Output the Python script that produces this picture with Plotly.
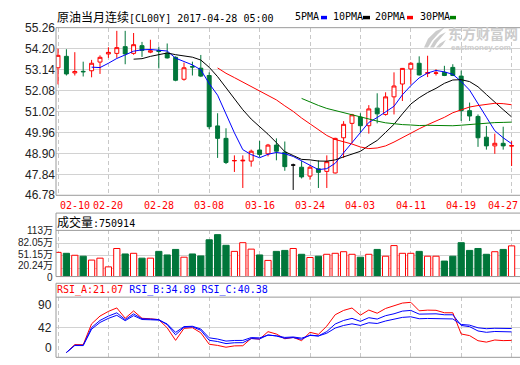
import plotly.graph_objects as go
import pandas as pd

W, H = 520, 365

# ---------------- data ----------------
dates = ["02-10", "02-13", "02-14", "02-15", "02-16", "02-17", "02-20", "02-21", "02-22", "02-23",
         "02-24", "02-27", "02-28", "03-01", "03-02", "03-03", "03-06", "03-07", "03-08", "03-09",
         "03-10", "03-13", "03-14", "03-15", "03-16", "03-17", "03-20", "03-21", "03-22", "03-23",
         "03-24", "03-27", "03-28", "03-29", "03-30", "03-31", "04-03", "04-04", "04-05", "04-06",
         "04-07", "04-10", "04-11", "04-12", "04-13", "04-14", "04-17", "04-18", "04-19", "04-20",
         "04-21", "04-24", "04-25", "04-26", "04-27"]
tick_labels = ["02-10", "02-20", "02-28", "03-08", "03-16", "03-24", "04-03", "04-11", "04-19", "04-27"]

opens = [53.23, 53.81, 52.97, 53.05, 53.08, 53.52, 53.93, 53.96, 54.30, 53.96,
         54.35, 54.02, 54.11, 53.97, 53.76, 52.65, 53.29, 53.21, 52.84, 50.29,
         49.66, 48.52, 48.52, 48.51, 49.07, 48.88, 49.32, 48.96, 48.31, 48.20,
         47.75, 48.12, 47.99, 47.91, 49.69, 50.42, 50.74, 50.30, 51.19, 50.87,
         51.76, 52.41, 53.17, 53.46, 52.95, 52.95, 53.00, 53.25, 52.81, 51.06,
         50.77, 49.72, 49.28, 49.41, 49.27]
highs = [54.20, 54.17, 54.02, 53.54, 53.63, 53.86, 54.27, 55.10, 55.10, 54.99,
         54.54, 54.65, 54.30, 54.46, 53.81, 53.49, 53.54, 53.88, 53.00, 50.93,
         50.17, 48.80, 48.80, 49.09, 49.53, 49.38, 49.66, 49.50, 48.38, 48.51,
         48.31, 48.55, 48.80, 49.69, 50.53, 50.90, 50.93, 51.34, 51.94, 51.99,
         53.00, 53.22, 53.52, 53.81, 53.84, 53.16, 53.33, 53.41, 53.09, 51.47,
         50.87, 50.29, 49.90, 50.25, 49.52]
lows = [52.39, 52.84, 52.84, 52.79, 52.75, 52.92, 53.73, 53.73, 53.41, 53.89,
        53.78, 53.97, 53.20, 53.70, 52.55, 52.58, 52.84, 52.76, 50.13, 48.67,
        48.36, 47.96, 47.15, 48.23, 48.72, 48.75, 48.55, 48.02, 47.05, 47.63,
        47.57, 47.15, 47.15, 47.88, 48.67, 49.41, 49.98, 49.90, 50.42, 50.81,
        50.87, 51.55, 52.39, 52.84, 52.76, 52.84, 52.81, 52.81, 50.54, 50.54,
        49.23, 49.09, 48.88, 49.09, 48.26]
closes = [53.86, 52.92, 53.04, 53.03, 53.46, 53.76, 54.01, 54.25, 53.93, 54.40,
          54.11, 54.09, 54.06, 53.73, 52.60, 53.23, 53.27, 52.81, 50.25, 49.66,
          48.44, 48.54, 48.55, 49.01, 48.85, 49.32, 49.01, 48.23, 48.31, 47.71,
          48.20, 47.94, 48.48, 49.66, 50.37, 50.85, 50.30, 51.15, 50.90, 51.76,
          52.31, 53.20, 53.46, 52.87, 52.98, 52.97, 52.84, 52.84, 51.06, 50.79,
          49.69, 49.28, 49.41, 49.28, 49.29]
volumes_wan = [59.2, 56.9, 52.1, 49.8, 40.3, 45.0, 23.7, 68.7, 55.3, 56.9,
               45.0, 45.0, 61.6, 52.9, 66.4, 47.4, 55.3, 50.5, 90.0, 102.6,
               76.5, 61.6, 82.9, 67.1, 52.9, 39.5, 61.6, 64.0, 68.7, 54.5,
               46.6, 49.8, 54.5, 56.9, 60.8, 54.5, 47.4, 54.5, 66.4, 49.8,
               75.8, 56.9, 56.9, 61.6, 49.8, 49.8, 37.9, 49.8, 82.9, 64.0,
               68.7, 54.5, 60.8, 66.4, 75.09]

price_ticks = [46.78, 47.84, 48.90, 49.96, 51.02, 52.08, 53.14, 54.20, 55.26]
vol_ticks = [0, 20.24, 51.15, 82.05, 113]
rsi_ticks = [0, 42, 90]
ma_periods = [5, 10, 20, 30]
rsi_periods = [6, 12, 24]
rsi_header_values = [21.07, 34.89, 40.38]
last_volume = 750914

# ---------------- styles ----------------
RED = "#ff0000"
GREEN = "#00763a"
BLUE = "#0000ff"
BLACK = "#000000"
MA_GREEN = "#008000"
BORDER = "#9a9a9a"
HGRID = "#d2d2d2"
VGRID = "#c8c8c8"
WMARK = "#cccccc"
MONO = "DejaVu Sans Mono"
CJK = "Noto Sans CJK SC"
NUM = "Liberation Sans"
LABEL = "#222222"


def fx(px):
    return px / W


def fy(py):
    return 1 - py / H


idx = list(range(len(dates)))
tick_idx = [dates.index(t) for t in tick_labels]

# the chart's indicators, from the read closes
close_s = pd.Series(closes, dtype=float)
mas = {n: close_s.rolling(n).mean() for n in ma_periods}


def tdx_sma(values, n, m=1):
    out, y = [], None
    for v in values:
        y = v if y is None else (m * v + (n - m) * y) / n
        out.append(y)
    return pd.Series(out, dtype=float)


diff = close_s.diff().fillna(0.0)
rsis = {}
for n in rsi_periods:
    num, den = tdx_sma(diff.clip(lower=0), n), tdx_sma(diff.abs(), n)
    rsis[n] = (num / den.where(den > 0)) * 100

flat = [o == c for o, c in zip(opens, closes)]
notflat = [not f for f in flat]


def pick(arr, mask):
    return [a if m else None for a, m in zip(arr, mask)]


fig = go.Figure()

# candles
fig.add_trace(go.Candlestick(
    x=idx, open=pick(opens, notflat), high=pick(highs, notflat), low=pick(lows, notflat),
    close=pick(closes, notflat), xaxis="x", yaxis="y", whiskerwidth=0,
    increasing=dict(line=dict(color=RED, width=1), fillcolor="white"),
    decreasing=dict(line=dict(color=GREEN, width=1), fillcolor=GREEN),
    hoverinfo="skip", showlegend=False))
fig.add_trace(go.Candlestick(
    x=idx, open=pick(opens, flat), high=pick(highs, flat), low=pick(lows, flat),
    close=pick(closes, flat), xaxis="x", yaxis="y", whiskerwidth=0,
    increasing=dict(line=dict(color=BLACK, width=1), fillcolor=BLACK),
    decreasing=dict(line=dict(color=BLACK, width=1), fillcolor=BLACK),
    hoverinfo="skip", showlegend=False))

# moving averages
for n, col in zip(ma_periods, [BLUE, BLACK, RED, MA_GREEN]):
    fig.add_trace(go.Scatter(x=idx, y=mas[n], mode="lines", line=dict(color=col, width=1),
                             xaxis="x", yaxis="y", hoverinfo="skip", showlegend=False))

# volume
up = [c >= o for o, c in zip(opens, closes)]
down = [not u for u in up]
fig.add_trace(go.Bar(x=idx, y=pick(volumes_wan, up), width=0.74, xaxis="x2", yaxis="y2",
                     marker=dict(color="white", line=dict(color=RED, width=1)),
                     hoverinfo="skip", showlegend=False))
fig.add_trace(go.Bar(x=idx, y=pick(volumes_wan, down), width=0.74, xaxis="x2", yaxis="y2",
                     marker=dict(color=GREEN, line=dict(color=GREEN, width=1)),
                     hoverinfo="skip", showlegend=False))

# RSI
for n, col in zip(rsi_periods, [RED, BLUE, BLUE]):
    fig.add_trace(go.Scatter(x=idx, y=rsis[n], mode="lines", line=dict(color=col, width=1),
                             xaxis="x3", yaxis="y3", hoverinfo="skip", showlegend=False))

# ---------------- layout ----------------
L = 56
main_top, main_bot = 21.5, 195.8
vol_hdr, vol_top, vol_bot = 214.3, 232.3, 280.3
rsi_hdr, rsi_top, rsi_bot = 287.3, 301.7, 364.3
xdom = [fx(L), 1.0]
xr = [-0.238, 55.0]
rsi_zero_px, rsi_42_px = 359.3, 333.3
rsi_scale = (rsi_zero_px - rsi_42_px) / 42
rsi_range = [-(rsi_bot - rsi_zero_px) / rsi_scale, (rsi_zero_px - rsi_top) / rsi_scale]

xcommon = dict(domain=xdom, range=xr, tickmode="array", tickvals=tick_idx, showgrid=True,
               gridcolor=VGRID, griddash="4px,3px", gridwidth=1, zeroline=False, showline=False,
               ticks="", showticklabels=False, fixedrange=True)

fig.update_layout(
    width=W, height=H, margin=dict(l=0, r=0, t=0, b=0),
    paper_bgcolor="white", plot_bgcolor="white", showlegend=False,
    barmode="overlay", boxgap=0.33,
    xaxis=dict(**xcommon, anchor="y", rangeslider=dict(visible=False)),
    yaxis=dict(domain=[fy(main_bot), fy(main_top)], range=[price_ticks[0], price_ticks[-1]],
               anchor="x", tickmode="array", tickvals=price_ticks,
               ticktext=[f"{v:.2f}" for v in price_ticks], showgrid=True, gridcolor=HGRID,
               zeroline=False, showline=False, ticks="",
               tickfont=dict(family=NUM, size=12, color=LABEL)),
    xaxis2=dict(**xcommon, anchor="y2"),
    yaxis2=dict(domain=[fy(vol_bot), fy(vol_top)], range=[0, vol_ticks[-1]], anchor="x2",
                tickmode="array", tickvals=vol_ticks, showgrid=True, gridcolor=HGRID,
                zeroline=False, showline=False, ticks="", showticklabels=False),
    xaxis3=dict(**xcommon, anchor="y3"),
    yaxis3=dict(domain=[fy(rsi_bot), fy(rsi_top)], range=rsi_range, anchor="x3",
                showgrid=False, zeroline=False, showline=False, showticklabels=False, ticks=""),
)

shapes = []


def hline(y, x0=L, x1=W + 2, color=BORDER, width=1):
    shapes.append(dict(type="line", xref="paper", yref="paper", x0=fx(x0), x1=fx(x1),
                       y0=fy(y), y1=fy(y), line=dict(color=color, width=width)))


def vline(x, y0, y1, color=BORDER, width=1):
    shapes.append(dict(type="line", xref="paper", yref="paper", x0=fx(x), x1=fx(x),
                       y0=fy(y0), y1=fy(y1), line=dict(color=color, width=width)))


def pix_path(points):
    d = "M " + " L ".join(f"{fx(x):.5f},{fy(y):.5f}" for x, y in points) + " Z"
    return d


# RSI 42 gridline
shapes.append(dict(type="line", xref="paper", yref="y3", x0=fx(L), x1=1.0, y0=42, y1=42,
                   line=dict(color=HGRID, width=1), layer="below"))

for y in (main_top, main_bot, vol_hdr, vol_top, vol_bot, rsi_hdr, rsi_top, rsi_bot):
    hline(y)
vline(L, main_top, main_bot)
vline(L, vol_hdr, vol_bot)
vline(L, rsi_hdr, rsi_bot)

# legend colour keys in the title row
for (x0, x1), col in zip([(321, 327), (363, 370), (407, 413), (450, 456)],
                         [BLUE, BLACK, RED, MA_GREEN]):
    shapes.append(dict(type="rect", xref="paper", yref="paper", x0=fx(x0), x1=fx(x1),
                       y0=fy(12.8), y1=fy(9.2), fillcolor=col, line=dict(width=0)))

# watermark logo (rough feather strokes)
for pts in ([(424, 42), (428, 33), (436, 25), (445, 21), (438, 28), (432, 35), (428, 42)],
            [(430, 42), (434, 35), (440, 29), (446, 26), (441, 32), (437, 37), (434, 42)],
            [(436, 42), (440, 38), (446, 34), (443, 39), (440, 42)]):
    shapes.append(dict(type="path", xref="paper", yref="paper", path=pix_path(pts),
                       fillcolor=WMARK, line=dict(width=0), layer="below"))

fig.update_layout(shapes=shapes)

ann = []


def text(x, y, s, size=10, family=MONO, color=BLACK, xanchor="left", **kw):
    ann.append(dict(x=fx(x), y=fy(y), xref="paper", yref="paper", text=s, showarrow=False,
                    xanchor=xanchor, yanchor="middle", borderpad=0,
                    font=dict(family=family, size=size, color=color), **kw))


def cjk(s, size=12):
    return f'<span style="font-family:{CJK};font-size:{size}px">{s}</span>'


text(56, 10, cjk("原油当月连续") + "[CL00Y] 2017-04-28 05:00")
for x, s in zip([294, 332, 374, 419], ["5PMA", "10PMA", "20PMA", "30PMA"]):
    text(x, 10, s)
text(56, 223, cjk("成交量") + f":{last_volume}")
text(56, 294.5,
     f'<span style="color:{RED}">RSI_A:{rsi_header_values[0]:.2f}</span> '
     f'<span style="color:{BLUE}">RSI_B:{rsi_header_values[1]:.2f} RSI_C:{rsi_header_values[2]:.2f}</span>')

# date labels under the price panel (placed on the shared x scale)
last = len(tick_idx) - 1
for i, (t, lab) in enumerate(zip(tick_idx, tick_labels)):
    if i == last:
        ann.append(dict(x=1.0, y=fy(206), xref="paper", yref="paper", text=lab, showarrow=False,
                        xanchor="right", xshift=-1, yanchor="middle", borderpad=0,
                        font=dict(family=MONO, size=10, color=RED)))
        continue
    ann.append(dict(x=t, y=fy(206), xref="x", yref="paper", text=lab, showarrow=False,
                    xanchor="left" if i == 0 else "center", xshift=1 if i == 0 else 0,
                    yanchor="middle", borderpad=0,
                    font=dict(family=MONO, size=10, color=RED)))

# volume axis labels (nudged like the original where they would collide)
for v, shift in zip(vol_ticks, [-0.5, 2.7, 1.1, 0.2, 0]):
    lab = "0" if v == 0 else f"{v:g}万"
    ann.append(dict(x=fx(54), y=v, xref="paper", yref="y2", text=lab, showarrow=False,
                    xanchor="right", yanchor="middle", yshift=shift, borderpad=0,
                    font=dict(family=NUM + ", " + CJK, size=10, color=LABEL)))

# RSI axis labels (nudged inside the panel like the original)
for v, shift in zip(rsi_ticks, [4.3, 0, -5.7]):
    ann.append(dict(x=fx(53), y=v, xref="paper", yref="y3", text=str(v), showarrow=False,
                    xanchor="right", yanchor="middle", yshift=shift, borderpad=0,
                    font=dict(family=NUM, size=12, color=LABEL)))

# watermark
text(447, 27.5, "<b>东方财富网</b>", size=14, family=CJK, color=WMARK)
text(450, 42.5, "<b>eastmoney.com</b>", size=8, family=NUM, color=WMARK)

fig.update_layout(annotations=ann)

fig.write_html("out.html", config={"displayModeBar": False, "staticPlot": True},
               post_script="document.body.style.margin='0';")
